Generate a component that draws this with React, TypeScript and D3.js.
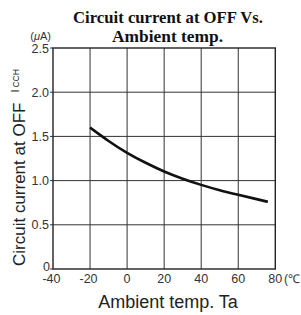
import React from 'react';
import * as d3 from 'd3';

// values
const temps = [-20, -10, 0, 10, 20, 30, 40, 50, 60, 70, 76];
const current = [1.6, 1.445, 1.31, 1.2, 1.1, 1.02, 0.95, 0.89, 0.84, 0.79, 0.76];
const xTicks = [-40, -20, 0, 20, 40, 60, 80];
const yTicks = [0, 0.5, 1.0, 1.5, 2.0, 2.5];

const W = 301;
const H = 315;
const sans = "Arial, 'Liberation Sans', Helvetica, sans-serif";
const serif = "'Century Schoolbook', 'Liberation Serif', 'Times New Roman', serif";

const App = () => {
  const x = d3.scaleLinear().domain([-40, 80]).range([53, 275.3]);
  const y = d3.scaleLinear().domain([0, 2.5]).range([269, 48]);

  const pts: [number, number][] = temps.map((t, i) => [t, current[i]]);
  const line = d3.line<[number, number]>()
    .x(d => x(d[0]))
    .y(d => y(d[1]))
    .curve(d3.curveBasis);

  const [x0, x1] = x.range();
  const [y0, y1] = y.range();

  return (
    <svg width={W} height={H} style={{ position: 'absolute', left: 0, top: 0, background: '#fff' }}>
      {/* title */}
      <g fontFamily={serif} fontWeight="bold" fill="#111" textAnchor="middle">
        <text x={168} y={23} fontSize={16.5} textLength={190} lengthAdjust="spacingAndGlyphs">Circuit current at OFF Vs.</text>
        <text x={167.5} y={42} fontSize={16.5} textLength={111} lengthAdjust="spacingAndGlyphs">Ambient temp.</text>
      </g>

      {/* grid */}
      <g stroke="#333" strokeWidth={1}>
        {xTicks.slice(1, -1).map(t => (
          <line key={'gx' + t} x1={x(t)} x2={x(t)} y1={y0} y2={y1} />
        ))}
        {yTicks.slice(1, -1).map(t => (
          <line key={'gy' + t} x1={x0} x2={x1} y1={y(t)} y2={y(t)} />
        ))}
        {yTicks.map(t => (
          <line key={'ty' + t} x1={x0 - 3} x2={x0} y1={y(t)} y2={y(t)} />
        ))}
      </g>
      <rect x={x0} y={y1} width={x1 - x0} height={y0 - y1} fill="none" stroke="#222" strokeWidth={1.4} />

      {/* curve */}
      <path d={line(pts) || ''} fill="none" stroke="#111" strokeWidth={2.6} />

      {/* y tick labels */}
      <g fontFamily={sans} fontSize={12.5} fill="#333" textAnchor="end">
        {yTicks.map(t => (
          <text key={'ly' + t} x={t === 0 ? 50 : 49} y={y(t) + (t === 0 ? 1.5 : 4.5)}>
            {t === 0 ? '0' : t.toFixed(1)}
          </text>
        ))}
        <text x={51} y={40} fontSize={11} textAnchor="end">
          (<tspan fontStyle="italic">μ</tspan>A)
        </text>
      </g>

      {/* x tick labels */}
      <g fontFamily={sans} fontSize={12.5} fill="#333" textAnchor="middle">
        {xTicks.map(t => (
          <text key={'lx' + t} x={x(t) - (t < 0 ? 1.5 : 0)} y={283}>{t}</text>
        ))}
        <text x={284} y={283} fontSize={12} textAnchor="start">(℃</text>
      </g>

      {/* axis titles */}
      <text x={168} y={308} fontFamily={sans} fontSize={18} fill="#222" textAnchor="middle">
        Ambient temp. Ta
      </text>
      <text transform="translate(25,266) rotate(-90)" fontFamily={sans} fontSize={17} fill="#222">
        Circuit current at OFF
        <tspan dx={10} dy={-6} fontSize={11}>I</tspan>
        <tspan dx={2} fontSize={8.5}>CCH</tspan>
      </text>
    </svg>
  );
};

export default App;
